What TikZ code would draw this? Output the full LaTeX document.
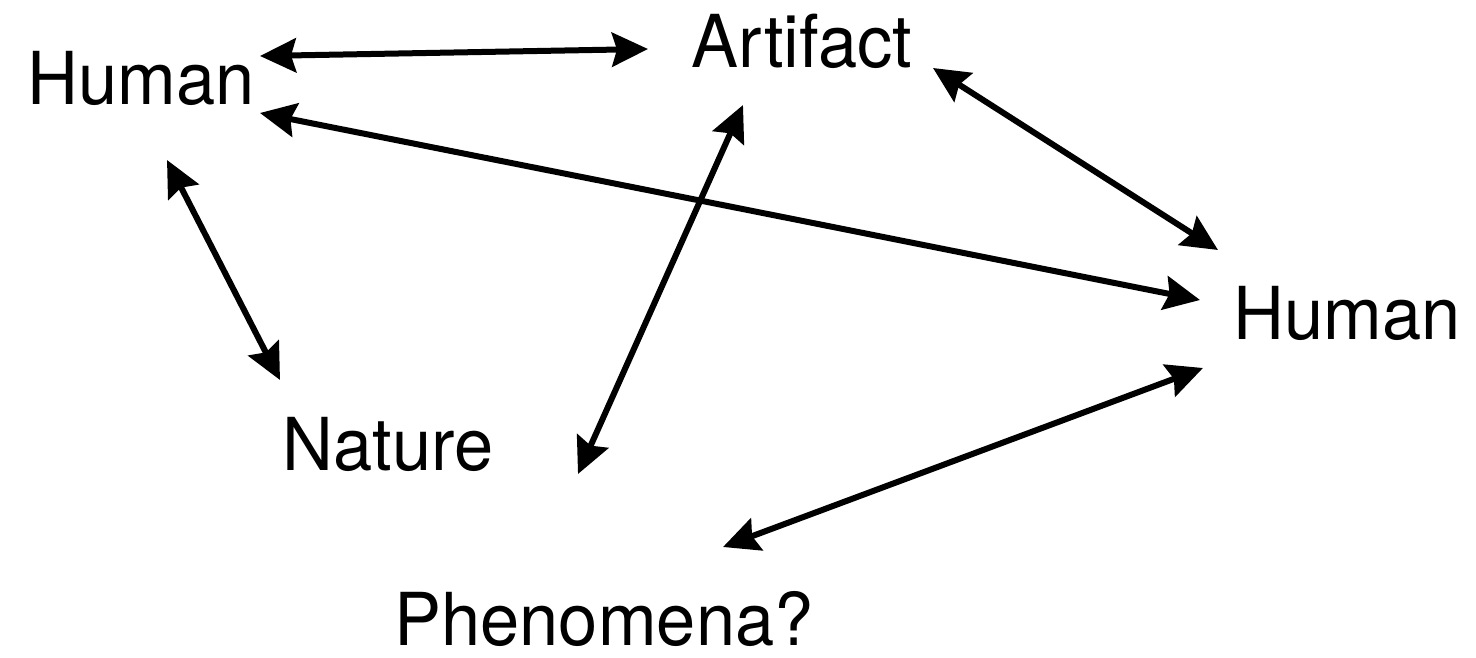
\documentclass[tikz,border=0pt]{standalone}
\usepackage{fontspec}
\setmainfont{TeX Gyre Heros}[FakeStretch=0.965]
\usetikzlibrary{arrows.meta}
\begin{document}
\begin{tikzpicture}[x=1pt,y=-1pt,
  lbl/.style={inner sep=0pt,font=\fontsize{73}{76}\selectfont},
  link/.style={line width=6pt,
    {Stealth[length=36pt,width=34pt,inset=5pt]}-{Stealth[length=36pt,width=34pt,inset=5pt]}}]
\useasboundingbox (0,0) rectangle (1476,658);
% terms
\node[lbl,anchor=base] (humL) at (141,105) {Human};
\node[lbl,anchor=base] (art) at (802,68) {Artifact};
\node[lbl,anchor=base] (humR) at (1347,339) {Human};
\node[lbl,anchor=base] (nat) at (388,470) {Nature};
\node[lbl,anchor=base] (phen) at (604,645) {Phenomena?};
% arrow ends
\coordinate (hlA) at (260,56);
\coordinate (artL) at (648,49);
\coordinate (hlB) at (260,113);
\coordinate (hrA) at (1200,300);
\coordinate (hlC) at (167,160);
\coordinate (natT) at (280,380);
\coordinate (artB) at (743,105);
\coordinate (free) at (578,474);
\coordinate (artR) at (933,68);
\coordinate (hrB) at (1218,250);
\coordinate (hrC) at (1203,368);
\coordinate (phenT) at (723,547);
% relations
\draw[link] (hlA) -- (artL);
\draw[link] (hlB) -- (hrA);
\draw[link] (hlC) -- (natT);
\draw[link] (artB) -- (free);
\draw[link] (artR) -- (hrB);
\draw[link] (hrC) -- (phenT);
\end{tikzpicture}
\end{document}
